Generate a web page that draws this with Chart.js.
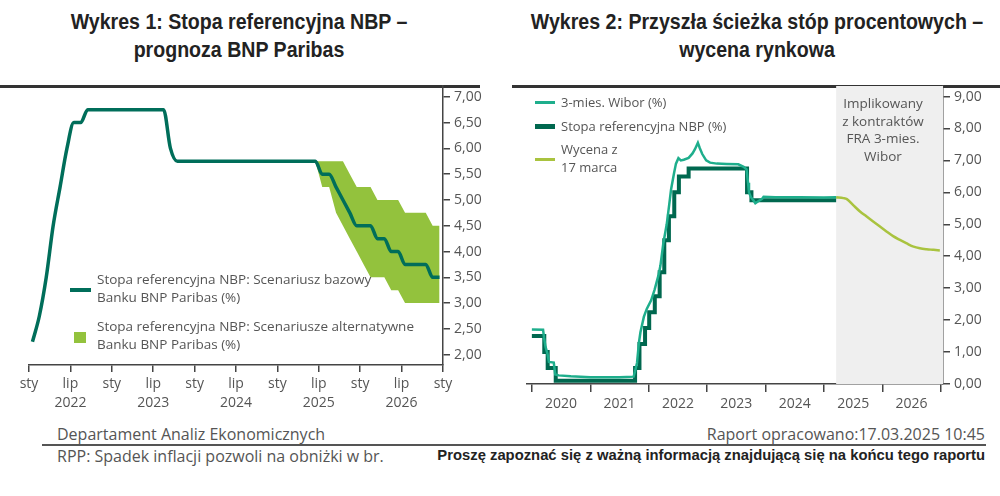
<!DOCTYPE html>
<html><head><meta charset="utf-8">
<script src="https://cdn.jsdelivr.net/npm/chart.js@4"></script>
<style>
html,body{margin:0;padding:0;background:#fff;width:1000px;height:496px;overflow:hidden;font-family:"Open Sans",sans-serif;color:#555}
.abs{position:absolute}
.tl{position:absolute;font-family:"Liberation Sans",Arial,sans-serif;font-weight:bold;font-size:22px;color:#222;white-space:nowrap;line-height:28px;transform:translateX(-50%) scaleX(0.89);transform-origin:center}
.topline{height:3px;background:#333}
.lg{font-size:13px;line-height:18px;color:#555;white-space:nowrap}
.foot{font-size:16px;color:#555;white-space:nowrap}
</style></head>
<body>
<div class="tl" style="left:239px;top:8px">Wykres 1: Stopa referencyjna NBP –</div>
<div class="tl" style="left:239px;top:36px">prognoza BNP Paribas</div>
<div class="tl" style="left:757px;top:8px">Wykres 2: Przyszła ścieżka stóp procentowych –</div>
<div class="tl" style="left:757px;top:36px">wycena rynkowa</div>
<div class="abs topline" style="left:0;top:85px;width:480px"></div>
<div class="abs topline" style="left:512px;top:85px;width:488px"></div>

<canvas id="c1" class="abs" style="left:0;top:0" width="500" height="420"></canvas>
<canvas id="c2" class="abs" style="left:500px;top:0" width="500" height="420"></canvas>

<!-- legend chart 1 -->
<div class="abs" style="left:70px;top:288px;width:21px;height:4px;background:#006E5A"></div>
<div class="abs lg" style="left:97px;top:270px;font-size:13.5px">Stopa referencyjna NBP: Scenariusz bazowy<br>Banku BNP Paribas (%)</div>
<div class="abs" style="left:74px;top:332px;width:12px;height:11px;background:#93C23D"></div>
<div class="abs lg" style="left:97px;top:317px;font-size:13.5px">Stopa referencyjna NBP: Scenariusze alternatywne<br>Banku BNP Paribas (%)</div>

<!-- legend chart 2 -->
<div class="abs" style="left:535px;top:101px;width:20px;height:3px;background:#1EAE8C"></div>
<div class="abs lg" style="left:561px;top:93px">3-mies. Wibor (%)</div>
<div class="abs" style="left:535px;top:124px;width:20px;height:5px;background:#00684F"></div>
<div class="abs lg" style="left:561px;top:117px">Stopa referencyjna NBP (%)</div>
<div class="abs" style="left:535px;top:158px;width:20px;height:3px;background:#A9C33F"></div>
<div class="abs lg" style="left:561px;top:140px">Wycena z<br>17 marca</div>
<div class="abs lg" style="left:830px;top:95px;width:106px;text-align:center;font-size:13.5px;line-height:17.7px">Implikowany<br>z kontraktów<br>FRA 3-mies.<br>Wibor</div>

<!-- footer -->
<div class="abs foot" style="left:57px;top:423px">Departament Analiz Ekonomicznych</div>
<div class="abs foot" style="right:15px;top:423px">Raport opracowano:17.03.2025 10:45</div>
<div class="abs" style="left:42px;top:444px;width:944px;height:1.5px;background:#555"></div>
<div class="abs foot" style="left:57px;top:445px">RPP: Spadek inflacji pozwoli na obniżki w br.</div>
<div class="abs foot" style="right:15px;top:447px;font-family:'Liberation Sans',Arial,sans-serif;font-weight:bold;color:#222;font-size:14.8px">Proszę zapoznać się z ważną informacją znajdującą się na końcu tego raportu</div>

<script>
// ---------- Chart 1 data (monthly, Jan 2022 = index 0) ----------
const baseMonths = Array.from({length:60},(_,i)=>i);
const baseRate = [2.25,2.75,3.5,4.5,5.25,6.0,6.5,6.5,6.75,
  6.75,6.75,6.75,6.75,6.75,6.75,6.75,6.75,6.75,6.75,6.75,
  6.0,
  5.75,5.75,5.75,5.75,5.75,5.75,5.75,5.75,5.75,5.75,5.75,5.75,5.75,5.75,5.75,5.75,5.75,5.75,5.75,5.75,5.75,
  5.5,5.5,5.25,5.0,4.75,4.5,4.5,4.5,4.25,4.25,4.0,4.0,3.75,3.75,3.75,3.75,3.5,3.5];
const bandMonths = [41,42,43,44,45,46,47,48,49,50,51,52,53,54,55,56,57,58,59];
const bandUpper = [5.75,5.75,5.75,5.75,5.75,5.5,5.25,5.25,5.25,5.0,5.0,5.0,5.0,4.75,4.75,4.75,4.75,4.5,4.5];
const bandLower = [5.75,5.25,5.25,4.75,4.5,4.25,4.0,3.75,3.5,3.5,3.5,3.25,3.25,3.0,3.0,3.0,3.0,3.0,3.0];
const chart1YTicks = [2,2.5,3,3.5,4,4.5,5,5.5,6,6.5,7];
const chart1XTicks = [0,6,12,18,24,30,36,42,48,54,60];
const chart1StartYear = 2022;

// ---------- Chart 2 data (months since Jan 2020) ----------
const wiborMonths = [0,2.3,2.5,2.8,3.2,3.5,4.5,4.8,5.5,8,12,18,20.9,21.2,21.6,22.0,22.3,23.0,23.6,24.5,25.2,26.0,26.4,27.0,27.7,28.2,28.6,29.2,29.6,30.1,30.6,31.2,32.2,33.0,33.5,34.1,34.5,35.0,35.8,36.6,38,40,42.4,43.5,44.1,44.4,44.6,45.0,45.5,45.9,46.5,47.3,47.6,50,55,60,62.5];
const wiborValues = [1.71,1.70,1.45,1.17,0.95,0.69,0.67,0.30,0.27,0.24,0.21,0.21,0.23,0.40,0.66,1.30,1.62,2.10,2.35,2.62,2.95,3.40,3.70,4.40,5.00,5.60,6.10,6.60,6.90,7.07,7.00,7.02,7.08,7.22,7.35,7.55,7.38,7.20,7.00,6.93,6.90,6.89,6.88,6.80,6.72,6.30,6.00,5.85,5.75,5.66,5.72,5.80,5.86,5.85,5.85,5.84,5.85];
const refMonths = [0,2.55,3.25,4.9,21.2,22.1,23.25,24.1,25.25,26.25,27.2,28.15,29.25,30.2,32.2,44.2,45.1,62.5];
const refValues = [1.5,1.0,0.5,0.1,0.5,1.25,1.75,2.25,2.75,3.5,4.5,5.25,6.0,6.5,6.75,6.0,5.75,5.75];
const fraMonths = [62.5,64,64.7,66,67.4,68.7,70.1,71.5,72.9,74.2,75.6,77,78.4,79.7,81.1,82.5,83.8];
const fraValues = [5.85,5.82,5.79,5.6,5.40,5.25,5.09,4.93,4.77,4.63,4.51,4.40,4.30,4.25,4.22,4.20,4.18];
const forecastStart = 62.5;
const chart2YTicks = [0,1,2,3,4,5,6,7,8,9];
const chart2XTicks = [0,6,12,18,24,30,36,42,48,54,60,66,72,78,84];
const chart2StartYear = 2020;

const pts = (xs, ys, off=0) => xs.map((x,i)=>({x:x+off, y:ys[i]}));
const fmt = v => v.toFixed(2).replace('.', ',');
const tickFont = {family:'Open Sans', size:14, lineHeight:1.35};
const axisColor = '#444';
const labelColor = '#555';

Chart.defaults.animation = false;

new Chart(document.getElementById('c1'), {
  type:'line',
  data:{datasets:[
    {data:pts(bandMonths,bandLower,0.5), borderWidth:0, pointRadius:0, fill:false, backgroundColor:'#93C23D', order:2},
    {data:pts(bandMonths,bandUpper,0.5), borderWidth:0, pointRadius:0, fill:'-1', backgroundColor:'#93C23D', order:2},
    {data:pts(baseMonths,baseRate,0.5), borderColor:'#006E5A', borderWidth:3.5, pointRadius:0, fill:false, cubicInterpolationMode:'monotone', order:1}
  ]},
  options:{
    responsive:false, animation:false,
    layout:{padding:{left:29, top:86, right:0, bottom:0}},
    plugins:{legend:{display:false}, tooltip:{enabled:false}},
    scales:{
      x:{type:'linear', min:0, max:60,
        afterBuildTicks:s=>{s.ticks = chart1XTicks.map(v=>({value:v}));},
        afterFit:s=>{s.height = 55;},
        border:{display:true, color:axisColor, width:1.5},
        grid:{drawOnChartArea:false, drawTicks:true, tickLength:7, color:axisColor, tickColor:axisColor, lineWidth:1.5},
        ticks:{color:labelColor, font:tickFont, padding:3, maxRotation:0, autoSkip:false,
          callback:v=> (v%12===0 ? 'sty' : ['lip', String(chart1StartYear + Math.floor(v/12))])}
      },
      y:{type:'linear', position:'right', min:1.8, max:7.21,
        afterBuildTicks:s=>{s.ticks = chart1YTicks.map(v=>({value:v}));},
        afterFit:s=>{s.width = 57;},
        border:{display:true, color:axisColor, width:1.5},
        grid:{drawOnChartArea:false, drawTicks:true, tickLength:7, color:axisColor, tickColor:axisColor, lineWidth:1.5},
        ticks:{color:labelColor, font:tickFont, padding:4, callback:v=>fmt(v)}
      }
    }
  }
});

const shadePlugin = {
  id:'shade',
  beforeDatasetsDraw(chart){
    const {ctx, chartArea, scales} = chart;
    const x0 = scales.x.getPixelForValue(forecastStart);
    ctx.save();
    ctx.fillStyle = '#EFEFEF';
    ctx.fillRect(x0, chartArea.top, chartArea.right - x0, chartArea.bottom - chartArea.top);
    ctx.restore();
  }
};

new Chart(document.getElementById('c2'), {
  type:'line',
  data:{datasets:[
    {data:pts(refMonths,refValues), borderColor:'#00684F', borderWidth:4, pointRadius:0, stepped:'before', fill:false, order:2},
    {data:pts(wiborMonths,wiborValues), borderColor:'#1EAE8C', borderWidth:2.5, pointRadius:0, fill:false, order:1},
    {data:pts(fraMonths,fraValues), borderColor:'#A9C33F', borderWidth:2.5, pointRadius:0, fill:false, cubicInterpolationMode:'monotone', order:1}
  ]},
  plugins:[shadePlugin],
  options:{
    responsive:false, animation:false,
    layout:{padding:{left:27, top:86, right:0, bottom:0}},
    plugins:{legend:{display:false}, tooltip:{enabled:false}},
    scales:{
      x:{type:'linear', min:-1, max:84.45,
        afterBuildTicks:s=>{s.ticks = chart2XTicks.map(v=>({value:v}));},
        afterFit:s=>{s.height = 36;},
        border:{display:true, color:axisColor, width:1.5},
        grid:{drawOnChartArea:false, drawTicks:true, tickLength:8, lineWidth:1.5,
          color:c=> (c.tick && c.tick.value%12===0) ? axisColor : 'rgba(0,0,0,0)',
          tickColor:c=> (c.tick && c.tick.value%12===0) ? axisColor : 'rgba(0,0,0,0)'},
        ticks:{color:labelColor, font:tickFont, padding:3, maxRotation:0, autoSkip:false,
          callback:v=> (v%12===6 ? String(chart2StartYear + Math.floor(v/12)) : '')}
      },
      y:{type:'linear', position:'right', min:0, max:9.33,
        afterBuildTicks:s=>{s.ticks = chart2YTicks.map(v=>({value:v}));},
        afterFit:s=>{s.width = 57;},
        border:{display:true, color:axisColor, width:1.5},
        grid:{drawOnChartArea:false, drawTicks:true, tickLength:7, color:axisColor, tickColor:axisColor, lineWidth:1.5},
        ticks:{color:labelColor, font:tickFont, padding:4, callback:v=>fmt(v)}
      }
    }
  }
});
</script>
</body></html>
